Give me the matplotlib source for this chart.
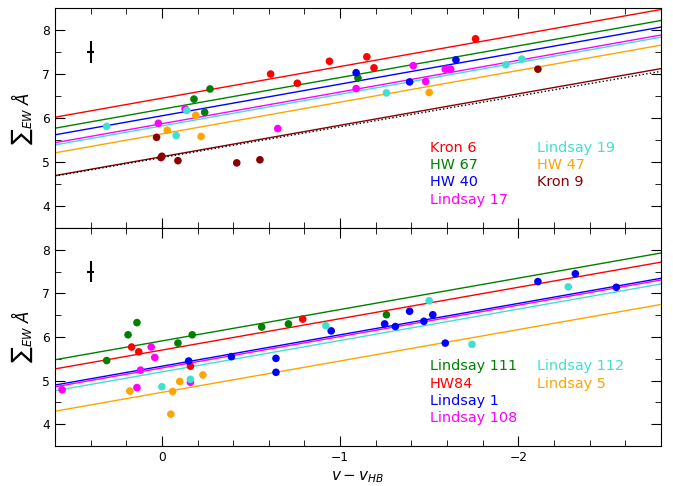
import numpy as np
import matplotlib
matplotlib.use("Agg")
import matplotlib.pyplot as plt

# ---------------- upper panel data ----------------
top_names = ["Kron 6", "HW 67", "HW 40", "Lindsay 17", "Lindsay 19", "HW 47", "Kron 9"]
top_colors = ["red", "green", "blue", "magenta", "turquoise", "orange", "darkred"]
top_icpt = [6.45, 6.20, 6.05, 5.87, 5.82, 5.64, 5.12]
top_slope = [-0.72, -0.72, -0.72, -0.72, -0.72, -0.72, -0.715]

top_x = {
    "Kron 6": [-0.61, -0.76, -0.94, -1.15, -1.19, -1.76],
    "HW 67": [-0.18, -0.24, -0.27, -1.10],
    "HW 40": [-1.09, -1.39, -1.65],
    "Lindsay 17": [0.02, -0.13, -0.65, -1.09, -1.41, -1.48, -1.59, -1.62],
    "Lindsay 19": [0.31, -0.08, -0.14, -1.26, -1.93, -2.02],
    "HW 47": [-0.03, -0.19, -0.22, -1.50],
    "Kron 9": [0.03, 0.0, 0.005, -0.09, -0.42, -0.55, -2.11],
}
top_y = {
    "Kron 6": [7.00, 6.79, 7.29, 7.39, 7.14, 7.80],
    "HW 67": [6.43, 6.13, 6.66, 6.91],
    "HW 40": [7.03, 6.82, 7.32],
    "Lindsay 17": [5.88, 6.21, 5.76, 6.67, 7.19, 6.83, 7.11, 7.11],
    "Lindsay 19": [5.81, 5.60, 6.17, 6.57, 7.21, 7.34],
    "HW 47": [5.72, 6.06, 5.58, 6.58],
    "Kron 9": [5.56, 5.13, 5.10, 5.03, 4.98, 5.05, 7.11],
}
# dotted reference fit
ref_icpt = 5.10
ref_slope = -0.70

# ---------------- lower panel data ----------------
bot_names = ["Lindsay 111", "HW84", "Lindsay 1", "Lindsay 108", "Lindsay 112", "Lindsay 5"]
bot_colors = ["green", "red", "blue", "magenta", "turquoise", "orange"]
bot_icpt = [5.91, 5.70, 5.33, 5.29, 5.20, 4.73]
bot_slope = [-0.72, -0.72, -0.72, -0.72, -0.72, -0.72]

bot_x = {
    "Lindsay 111": [0.31, 0.19, 0.14, -0.09, -0.17, -0.56, -0.71, -1.26],
    "HW84": [0.17, 0.13, -0.16, -0.79],
    "Lindsay 1": [-0.15, -0.39, -0.64, -0.64, -0.95, -1.25, -1.31, -1.39, -1.47,
                  -1.52, -1.59, -2.11, -2.32, -2.55],
    "Lindsay 108": [0.56, 0.14, 0.12, 0.06, 0.04, -0.16],
    "Lindsay 112": [0.0, -0.16, -0.92, -1.50, -1.74, -2.28],
    "Lindsay 5": [0.18, -0.05, -0.06, -0.10, -0.23],
}
bot_y = {
    "Lindsay 111": [5.46, 6.05, 6.33, 5.86, 6.05, 6.23, 6.30, 6.51],
    "HW84": [5.77, 5.66, 5.33, 6.41],
    "Lindsay 1": [5.45, 5.55, 5.51, 5.19, 6.14, 6.30, 6.24, 6.59, 6.36,
                  6.51, 5.86, 7.27, 7.45, 7.14],
    "Lindsay 108": [4.79, 4.84, 5.24, 5.77, 5.53, 4.96],
    "Lindsay 112": [4.86, 5.03, 6.26, 6.83, 5.83, 7.15],
    "Lindsay 5": [4.76, 4.23, 4.75, 4.98, 5.13],
}

# typical error bar
err_x, err_y = 0.40, 7.5
err_dx, err_dy = 0.02, 0.25

xlim = (0.6, -2.8)
ylim = (3.5, 8.5)

fig = plt.figure(figsize=(6.73, 4.86), dpi=100)
ax1 = fig.add_axes([0.0817, 0.5309, 0.9003, 0.4526])
ax2 = fig.add_axes([0.0817, 0.0823, 0.9003, 0.4486], sharex=ax1)

xfit = np.array(xlim)


def panel(ax, names, colors, icpt, slope, xs, ys):
    for n, c, a, b in zip(names, colors, icpt, slope):
        ax.plot(xfit, a + b * xfit, color=c, lw=1.0, zorder=2)
        ax.scatter(xs[n], ys[n], color=c, s=30, zorder=3, edgecolors="none")
    ax.errorbar(err_x, err_y, xerr=err_dx, yerr=err_dy, color="black", lw=1.5, capsize=0)
    ax.set_xlim(xlim)
    ax.set_ylim(ylim)
    ax.set_yticks([4, 5, 6, 7, 8])
    ax.set_yticks(np.arange(3.5, 8.51, 0.5), minor=True)
    ax.set_xticks([0, -1, -2])
    ax.set_xticks(np.arange(0.6, -2.81, -0.2), minor=True)
    ax.tick_params(which="both", direction="in", top=True, right=True, labelsize=8.8)
    ax.tick_params(which="major", length=7)
    ax.tick_params(which="minor", length=4)
    ax.set_ylabel(r"$\sum{}_{EW}\ \AA$", fontsize=12, labelpad=5)
    # legend text in two columns
    for i, (n, c) in enumerate(zip(names, colors)):
        col = i // 4
        row = i % 4
        ax.text(0.619 + col * 0.176, 0.365 - row * 0.079, n, color=c,
                fontsize=10.4, transform=ax.transAxes, va="center", ha="left")


panel(ax1, top_names, top_colors, top_icpt, top_slope, top_x, top_y)
ax1.plot(xfit, ref_icpt + ref_slope * xfit, color="black", ls=":", lw=1.0, zorder=2)
plt.setp(ax1.get_xticklabels(), visible=False)

panel(ax2, bot_names, bot_colors, bot_icpt, bot_slope, bot_x, bot_y)
ax2.set_xlabel(r"$v - v_{HB}$", fontsize=11)

fig.savefig("out.png", dpi=100)
